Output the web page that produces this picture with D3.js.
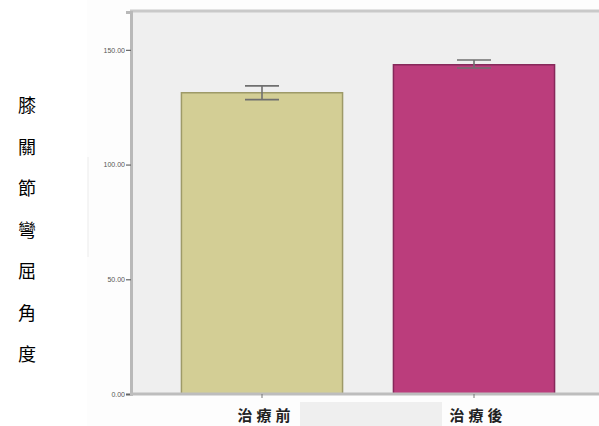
<!DOCTYPE html>
<html>
<head>
<meta charset="utf-8">
<script src="https://cdn.jsdelivr.net/npm/d3@7"></script>
<style>
  html, body { margin: 0; padding: 0; background: #ffffff; }
  svg { display: block; }
</style>
</head>
<body>
<svg id="chart" width="599" height="426"></svg>
<script>
// Knee flexion angle before and after treatment (mean with error bars)
const categories = ["治療前", "治療後"];
const means = [131.3, 143.5];
const errLow = [128.3, 142.1];
const errHigh = [134.3, 145.6];
const yTicks = [0, 50, 100, 150];
const tickLabels = ["0.00", "50.00", "100.00", "150.00"];
const yTitle = ["膝", "關", "節", "彎", "屈", "角", "度"];
const barFills = ["#d3ce95", "#bb3d7c"];
const barStrokes = ["#9e9a68", "#86285a"];

const svg = d3.select("#chart");
const plot = { left: 131, top: 12, right: 599, bottom: 394 };

const x = d3.scaleBand()
  .domain(categories)
  .range([156, 580])
  .paddingInner(0.24)
  .paddingOuter(0.12);

const y = d3.scaleLinear()
  .domain([0, 166.5])
  .range([plot.bottom, plot.top]);

// faint page panel and stray guide line
svg.append("rect")
  .attr("x", 87).attr("y", 0).attr("width", 512).attr("height", 426)
  .attr("fill", "#fdfdfd");
svg.append("line")
  .attr("x1", 88).attr("x2", 88).attr("y1", 157).attr("y2", 257)
  .attr("stroke", "#ececec").attr("stroke-width", 1);

// plot background
svg.append("rect")
  .attr("x", plot.left).attr("y", plot.top)
  .attr("width", plot.right - plot.left).attr("height", plot.bottom - plot.top)
  .attr("fill", "#efefef");

// frame: top border
svg.append("line")
  .attr("x1", plot.left - 1).attr("x2", plot.right)
  .attr("y1", plot.top - 1).attr("y2", plot.top - 1)
  .attr("stroke", "#c9c9c9").attr("stroke-width", 3);

// bars
svg.selectAll("rect.bar")
  .data(categories)
  .join("rect")
  .attr("class", "bar")
  .attr("x", d => x(d))
  .attr("y", (d, i) => y(means[i]))
  .attr("width", x.bandwidth())
  .attr("height", (d, i) => y(0) - y(means[i]))
  .attr("fill", (d, i) => barFills[i])
  .attr("stroke", (d, i) => barStrokes[i])
  .attr("stroke-width", 1.5);

// error bars
const capHalf = 17;
const eb = svg.selectAll("g.err")
  .data(categories)
  .join("g")
  .attr("class", "err")
  .attr("stroke", "#6f6f6f")
  .attr("stroke-width", 1.6);
eb.append("line")
  .attr("x1", d => x(d) + x.bandwidth() / 2)
  .attr("x2", d => x(d) + x.bandwidth() / 2)
  .attr("y1", (d, i) => y(errHigh[i]))
  .attr("y2", (d, i) => y(errLow[i]));
eb.append("line")
  .attr("x1", d => x(d) + x.bandwidth() / 2 - capHalf)
  .attr("x2", d => x(d) + x.bandwidth() / 2 + capHalf)
  .attr("y1", (d, i) => y(errHigh[i]))
  .attr("y2", (d, i) => y(errHigh[i]));
eb.append("line")
  .attr("x1", d => x(d) + x.bandwidth() / 2 - capHalf)
  .attr("x2", d => x(d) + x.bandwidth() / 2 + capHalf)
  .attr("y1", (d, i) => y(errLow[i]))
  .attr("y2", (d, i) => y(errLow[i]));

// y axis
const yAxis = d3.axisLeft(y)
  .tickValues(yTicks)
  .tickFormat((d, i) => tickLabels[i])
  .tickSize(5)
  .tickPadding(1);
const gy = svg.append("g")
  .attr("transform", `translate(${plot.left},0)`)
  .call(yAxis);
gy.select(".domain").attr("stroke", "#b9b9b9").attr("stroke-width", 3);
gy.selectAll(".tick line").attr("stroke", "#666").attr("stroke-width", 1.2);
gy.selectAll(".tick text")
  .attr("fill", "#555")
  .style("font-family", "Arial, 'Liberation Sans', sans-serif")
  .style("font-size", "7px");

// x axis
const xAxis = d3.axisBottom(x).tickSize(4).tickPadding(6);
const gx = svg.append("g")
  .attr("transform", `translate(0,${plot.bottom})`)
  .call(xAxis);
gx.select(".domain")
  .attr("d", `M${plot.left - 1},0H${plot.right}`)
  .attr("stroke", "#bdbdbd").attr("stroke-width", 3);
gx.selectAll(".tick line").attr("stroke", "#777").attr("stroke-width", 1);
gx.selectAll(".tick text").remove();

// light label panel between the categories
svg.append("rect")
  .attr("x", 300).attr("y", 402).attr("width", 142).attr("height", 24)
  .attr("fill", "#efefef");

// category labels
svg.selectAll("text.cat")
  .data(categories)
  .join("text")
  .attr("class", "cat")
  .attr("x", d => x(d) + x.bandwidth() / 2 + 4)
  .attr("y", 421)
  .attr("text-anchor", "middle")
  .attr("fill", "#222")
  .style("font-family", "'Noto Sans CJK TC', sans-serif")
  .style("font-weight", "bold")
  .style("font-size", "15px")
  .style("letter-spacing", "4px")
  .text(d => d);

// vertical y title, one character per line
svg.selectAll("text.ytitle")
  .data(yTitle)
  .join("text")
  .attr("class", "ytitle")
  .attr("x", 27)
  .attr("y", (d, i) => 112 + i * 41.5)
  .attr("text-anchor", "middle")
  .attr("fill", "#000")
  .style("font-family", "'Noto Sans CJK TC', sans-serif")
  .style("font-size", "18px")
  .text(d => d);
</script>
</body>
</html>
